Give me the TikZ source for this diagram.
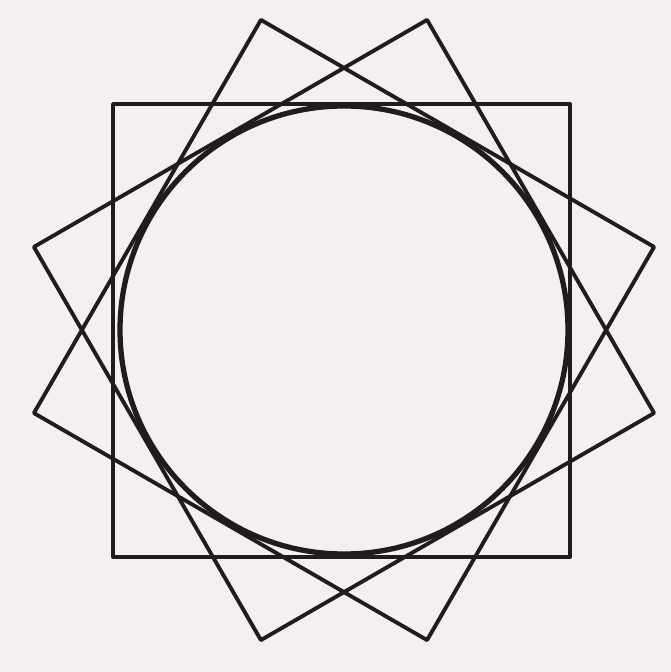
\documentclass[tikz,border=0pt]{standalone}
\usepackage{tikz}
\usetikzlibrary{calc}
\definecolor{sketchPaper}{HTML}{F5F0EF}
\definecolor{sketchInk}{HTML}{1E1C1C}
\newcommand{\sketchLineW}{2.2pt}
\newcommand{\sketchLineWthick}{3.0pt}
\newcommand{\sketchHalf}{4.54}

\begin{document}
\begin{tikzpicture}[line cap=round, line join=round]
  % ===== Paper =====
  \fill[sketchPaper] (0,0) rectangle (13.42,13.44);
  \useasboundingbox (0,0) rectangle (13.42,13.44);
  \coordinate (ctr) at (6.88,6.84);

  % ===== Upright square =====
  \draw[sketchInk, line width=\sketchLineW]
    (2.26,2.30) rectangle (11.40,11.36);

  % ===== Turned squares (30 and 60 degrees) =====
  \foreach \a in {30,60} {
    \draw[sketchInk, line width=\sketchLineW, shift={(ctr)}, rotate=\a]
      (-\sketchHalf,-\sketchHalf) rectangle (\sketchHalf,\sketchHalf);
  }

  % ===== Inscribed circle =====
  \draw[sketchInk, line width=\sketchLineWthick] (ctr) circle (4.48);
\end{tikzpicture}
\end{document}
